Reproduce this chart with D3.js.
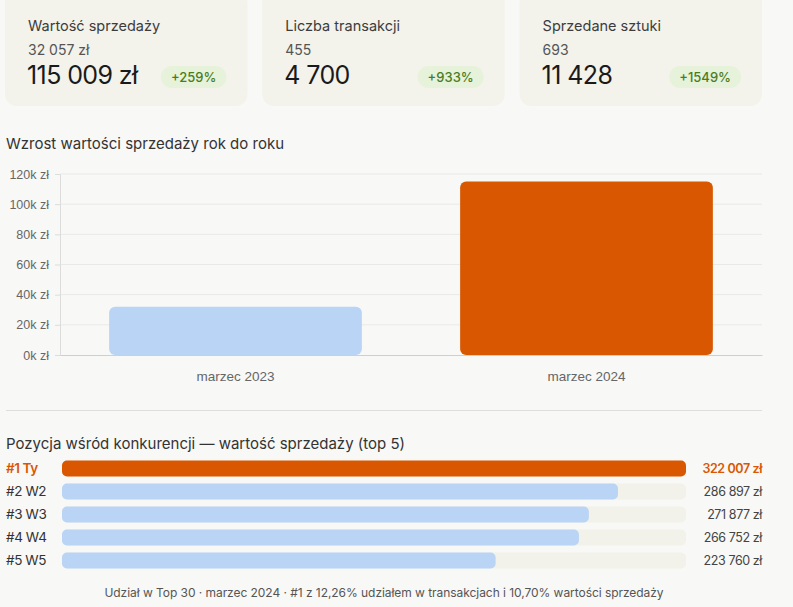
<!DOCTYPE html>
<html>
<head>
<meta charset="utf-8">
<script src="https://cdn.jsdelivr.net/npm/d3@7"></script>
<style>
  html, body { margin: 0; padding: 0; background: #f8f8f6; }
  svg { display: block; font-family: Inter, "Noto Sans", sans-serif; }
</style>
</head>
<body>
<div id="chart"></div>
<script>
// KPI cards
const kpiLabels = ["Wartość sprzedaży", "Liczba transakcji", "Sprzedane sztuki"];
const kpiPrev = ["32 057 zł", "455", "693"];
const kpiNow = ["115 009 zł", "4 700", "11 428"];
const kpiChange = ["+259%", "+933%", "+1549%"];

// year over year
const yoyCategories = ["marzec 2023", "marzec 2024"];
const yoyValues = [32057, 115009];
const yoyTicks = [0, 20000, 40000, 60000, 80000, 100000, 120000];

// top 5 competitors
const rankLabels = ["#1 Ty", "#2 W2", "#3 W3", "#4 W4", "#5 W5"];
const rankValues = [322007, 286897, 271877, 266752, 223760];

const footerText = "Udział w Top 30 · marzec 2024 · #1 z 12,26% udziałem w transakcjach i 10,70% wartości sprzedaży";

const W = 793, H = 607;
const orange = "#d95700", blue = "#b9d4f5";
const fmt = n => d3.format(",")(n).replace(/,/g, " ");

const svg = d3.select("#chart").append("svg")
  .attr("width", W).attr("height", H);

// ---- cards
const cardX = d3.scaleBand().domain(d3.range(3)).range([5, 762]).paddingInner(0.058);
const cards = svg.selectAll("g.card").data(kpiLabels).enter().append("g")
  .attr("transform", (d, i) => "translate(" + cardX(i) + ",-10)");
cards.append("rect")
  .attr("width", cardX.bandwidth()).attr("height", 116)
  .attr("rx", 12).attr("fill", "#f3f2eb");
cards.append("text").attr("x", 23).attr("y", 41)
  .attr("font-size", 14.5).attr("fill", "#3c3c3c").text(d => d);
cards.append("text").attr("x", 23).attr("y", 65)
  .attr("font-size", 14).attr("fill", "#555").text((d, i) => kpiPrev[i]);
cards.append("text").attr("x", 22).attr("y", 94)
  .attr("font-size", 25).attr("fill", "#1a1a1a").attr("letter-spacing", -0.6)
  .text((d, i) => kpiNow[i]);
const badge = cards.append("g")
  .attr("transform", (d, i) => "translate(" + (cardX.bandwidth() - 21) + ",87)");
badge.each(function (d, i) {
  const g = d3.select(this);
  const t = g.append("text").attr("text-anchor", "middle")
    .attr("font-size", 13).attr("font-weight", 500).attr("fill", "#4b7d1d")
    .attr("y", 5).text(kpiChange[i]);
  const w = t.node().getComputedTextLength() + 20;
  t.attr("x", -w / 2);
  g.insert("rect", "text").attr("x", -w).attr("y", -11)
    .attr("width", w).attr("height", 22).attr("rx", 11).attr("fill", "#e7f2da");
});

// ---- yoy chart
svg.append("text").attr("x", 6).attr("y", 149)
  .attr("font-size", 15).attr("fill", "#333").text("Wzrost wartości sprzedaży rok do roku");

const m = { left: 60, right: 762, top: 174, bottom: 355 };
const y = d3.scaleLinear().domain([0, 120000]).range([m.bottom, m.top]);
const x = d3.scaleBand().domain(yoyCategories).range([m.left, m.right])
  .paddingInner(0.28).paddingOuter(0.14);

svg.append("g").selectAll("line").data(yoyTicks.slice(1)).enter().append("line")
  .attr("x1", m.left).attr("x2", m.right)
  .attr("y1", d => y(d)).attr("y2", d => y(d))
  .attr("stroke", "#e9e9e7");

const yAxis = svg.append("g").attr("transform", "translate(" + m.left + ",0)")
  .call(d3.axisLeft(y).tickValues(yoyTicks).tickSize(5).tickPadding(6)
    .tickFormat(d => (d / 1000) + "k zł"));
yAxis.select(".domain").attr("stroke", "#dcdcdc");
yAxis.selectAll(".tick line").attr("stroke", "#dcdcdc");
yAxis.selectAll("text").attr("font-family", "Liberation Sans, Arial, sans-serif")
  .attr("font-size", 12.5).attr("fill", "#666");

svg.selectAll("rect.yoy").data(yoyValues).enter().append("rect")
  .attr("x", (d, i) => x(yoyCategories[i]))
  .attr("y", d => y(d))
  .attr("width", x.bandwidth())
  .attr("height", d => y(0) - y(d))
  .attr("rx", 6)
  .attr("fill", (d, i) => i === yoyValues.length - 1 ? orange : blue);

const xAxis = svg.append("g").attr("transform", "translate(0," + m.bottom + ")")
  .call(d3.axisBottom(x).tickSize(0).tickPadding(16));
xAxis.select(".domain").attr("stroke", "#cfcfcf");
xAxis.selectAll("text").attr("font-family", "Liberation Sans, Arial, sans-serif")
  .attr("font-size", 13.5).attr("fill", "#666");

svg.append("line").attr("x1", 6).attr("x2", 762).attr("y1", 410.5).attr("y2", 410.5)
  .attr("stroke", "#dedede");

// ---- ranking
svg.append("text").attr("x", 6).attr("y", 449)
  .attr("font-size", 15).attr("fill", "#333")
  .text("Pozycja wśród konkurencji — wartość sprzedaży (top 5)");

const rx = d3.scaleLinear().domain([0, d3.max(rankValues)]).range([62, 686]);
const ry = d3.scaleBand().domain(rankLabels).range([457, 572]).paddingInner(0.3).paddingOuter(0.15);

const rows = svg.selectAll("g.row").data(rankLabels).enter().append("g")
  .attr("transform", d => "translate(0," + ry(d) + ")");
rows.append("rect").attr("x", rx(0)).attr("width", rx.range()[1] - rx(0))
  .attr("height", ry.bandwidth()).attr("rx", 5).attr("fill", "#f2f2ea");
rows.append("rect").attr("x", rx(0))
  .attr("width", (d, i) => rx(rankValues[i]) - rx(0))
  .attr("height", ry.bandwidth()).attr("rx", 5)
  .attr("fill", (d, i) => i === 0 ? orange : blue);
rows.append("text").attr("x", 6).attr("y", ry.bandwidth() / 2 + 5)
  .attr("font-size", 13.5).attr("letter-spacing", -0.4)
  .attr("font-weight", (d, i) => i === 0 ? 600 : 400)
  .attr("fill", (d, i) => i === 0 ? orange : "#333").text(d => d);
rows.append("text").attr("x", 762).attr("y", ry.bandwidth() / 2 + 4.5)
  .attr("text-anchor", "end").attr("font-size", 12.5).attr("letter-spacing", -0.4)
  .attr("font-weight", (d, i) => i === 0 ? 600 : 400)
  .attr("fill", (d, i) => i === 0 ? orange : "#444")
  .text((d, i) => fmt(rankValues[i]) + " zł");

svg.append("text").attr("x", 384).attr("y", 597).attr("text-anchor", "middle")
  .attr("font-size", 12).attr("letter-spacing", -0.05).attr("fill", "#555")
  .text(footerText);
</script>
</body>
</html>
